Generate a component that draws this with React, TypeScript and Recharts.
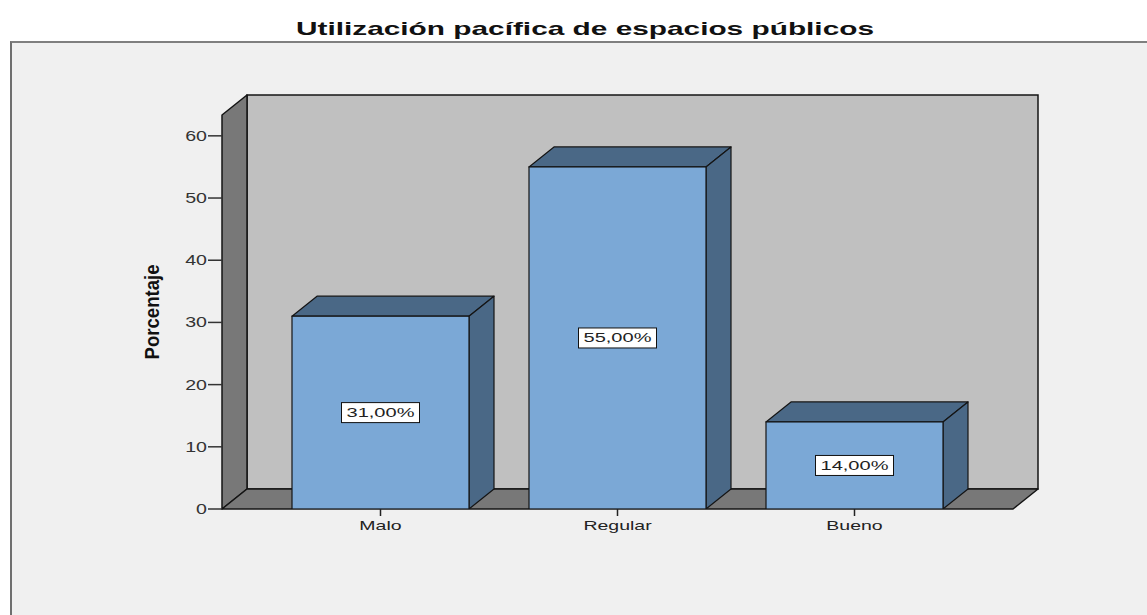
import React from 'react';
import { BarChart, Bar, XAxis, YAxis, ReferenceArea, LabelList } from 'recharts';

const categories = ['Malo', 'Regular', 'Bueno'];
const percentages = [31, 55, 14];
const yTicks = [0, 10, 20, 30, 40, 50, 60];
const Y_MAX = 63.35;
const TITLE = 'Utilización pacífica de espacios públicos';
const Y_LABEL = 'Porcentaje';

const data = categories.map((name, i) => ({ name, value: percentages[i] }));

const DX = 25;
const DY = 20;
const X_PAD = 40;
const FONT = '"Liberation Sans", Arial, sans-serif';
const EDGE = '#141414';

const fmt = (v: number) => v.toFixed(2).replace('.', ',') + '%';

const Walls = (props: any) => {
  const { y, height } = props;
  if (props.x == null) return null;
  const x = props.x - X_PAD;
  const width = props.width + 2 * X_PAD;
  const b = y + height;
  return (
    <g>
      <rect x={x + DX} y={y - DY} width={width} height={height} fill="#c0c0c0" stroke={EDGE} strokeWidth={1.5} />
      <polygon
        points={`${x},${b} ${x},${y} ${x + DX},${y - DY} ${x + DX},${b - DY}`}
        fill="#787878"
        stroke={EDGE}
        strokeWidth={1.5}
        strokeLinejoin="round"
      />
      <polygon
        points={`${x},${b} ${x + DX},${b - DY} ${x + width + DX},${b - DY} ${x + width},${b}`}
        fill="#787878"
        stroke={EDGE}
        strokeWidth={1.5}
        strokeLinejoin="round"
      />
    </g>
  );
};

const Bar3D = (props: any) => {
  const { x, y, width, height } = props;
  if (x == null || height == null) return null;
  const b = y + height;
  return (
    <g>
      <polygon
        points={`${x},${y} ${x + DX},${y - DY} ${x + width + DX},${y - DY} ${x + width},${y}`}
        fill="#4a6886"
        stroke={EDGE}
        strokeWidth={1.2}
        strokeLinejoin="round"
      />
      <polygon
        points={`${x + width},${y} ${x + width + DX},${y - DY} ${x + width + DX},${b - DY} ${x + width},${b}`}
        fill="#4a6886"
        stroke={EDGE}
        strokeWidth={1.2}
        strokeLinejoin="round"
      />
      <rect x={x} y={y} width={width} height={height} fill="#7ba8d6" stroke={EDGE} strokeWidth={1.2} />
    </g>
  );
};

const ValueLabel = (props: any) => {
  const { x, y, width, height, value } = props;
  if (x == null) return null;
  const cx = x + width / 2;
  const cy = y + height / 2;
  return (
    <g>
      <rect x={cx - 39} y={cy - 10} width={78} height={20} fill="#ffffff" stroke="#111" strokeWidth={1} />
      <text
        x={cx}
        y={cy + 4.5}
        textAnchor="middle"
        fontFamily={FONT}
        fontSize={12.5}
        fill="#222"
        textLength={68}
        lengthAdjust="spacingAndGlyphs"
      >
        {fmt(Number(value))}
      </text>
    </g>
  );
};

const YTick = (props: any) => {
  const { x, y, payload } = props;
  return (
    <g transform={`translate(${x + 1},${y}) scale(1.4,1)`}>
      <text x={0} y={0} dy={5} textAnchor="end" fontFamily={FONT} fontSize={14} fill="#333">
        {payload.value}
      </text>
    </g>
  );
};

const XTick = (props: any) => {
  const { x, y, payload } = props;
  return (
    <g transform={`translate(${x},${y}) scale(1.5,1)`}>
      <text x={0} y={0} dy={12} textAnchor="middle" fontFamily={FONT} fontSize={13} fill="#222">
        {payload.value}
      </text>
    </g>
  );
};

const YLabel = (props: any) => {
  const vb = props.viewBox || {};
  const cx = (vb.x ?? 142) + 9;
  const cy = (vb.y ?? 115) + (vb.height ?? 394) / 2;
  return (
    <g transform={`translate(${cx},${cy}) scale(1.25,1) rotate(-90)`}>
      <text x={0} y={0} dy={6} textAnchor="middle" fontFamily={FONT} fontWeight="bold" fontSize={16} fill="#111"
        textLength={95} lengthAdjust="spacingAndGlyphs">
        {Y_LABEL}
      </text>
    </g>
  );
};

export default function App() {
  return (
    <div style={{ position: 'absolute', left: 0, top: 0, width: 1147, height: 615, overflow: 'hidden', background: '#ffffff' }}>
      <div
        style={{
          position: 'absolute',
          left: 10,
          top: 41,
          width: 1200,
          height: 700,
          background: '#f0f0f0',
          borderTop: '2px solid #7f7f7f',
          borderLeft: '2px solid #6f6f6f',
        }}
      />
      <svg width={1147} height={60} style={{ position: 'absolute', left: 0, top: 0 }}>
        <text
          x={585}
          y={35}
          textAnchor="middle"
          fontFamily={FONT}
          fontWeight="bold"
          fontSize={19}
          fill="#111"
          textLength={578}
          lengthAdjust="spacingAndGlyphs"
        >
          {TITLE}
        </text>
      </svg>
      <div style={{ position: 'absolute', left: 0, top: 0 }}>
        <BarChart width={1147} height={615} data={data} margin={{ top: 115, right: 134, bottom: 76, left: 142 }}>
          <ReferenceArea y1={0} y2={Y_MAX} shape={Walls} ifOverflow="visible" zIndex={-10} />
          <XAxis
            dataKey="name"
            padding={{ left: X_PAD, right: X_PAD }}
            axisLine={false}
            tickLine={{ stroke: '#222', strokeWidth: 1.5 }}
            tickSize={7}
            height={30}
            interval={0}
            tick={XTick}
          />
          <YAxis
            domain={[0, Y_MAX]}
            ticks={yTicks}
            width={80}
            axisLine={false}
            tickLine={{ stroke: '#333', strokeWidth: 1.5 }}
            tickSize={14}
            tick={YTick}
            label={{ content: YLabel }}
            allowDataOverflow
          />
          <Bar dataKey="value" barSize={177} shape={Bar3D} isAnimationActive={false}>
            <LabelList dataKey="value" content={ValueLabel} />
          </Bar>
        </BarChart>
      </div>
    </div>
  );
}
